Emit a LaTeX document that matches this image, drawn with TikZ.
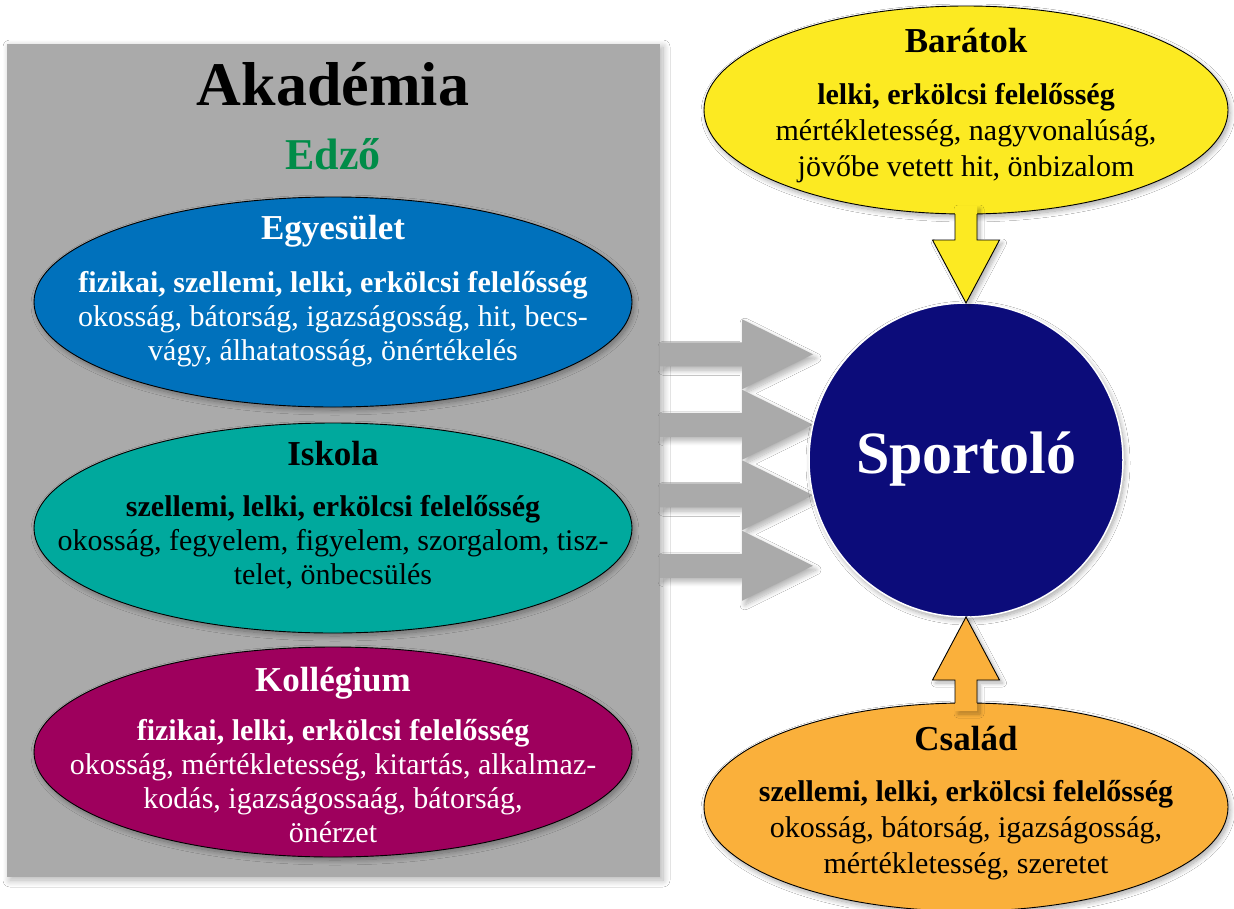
\documentclass[tikz,border=0pt]{standalone}
\usepackage{fontspec}
\setmainfont{Liberation Serif}
\usetikzlibrary{calc,shapes.geometric,shadows.blur}
\definecolor{boxgray}{RGB}{170,170,170}
\definecolor{egyblue}{RGB}{0,113,188}
\definecolor{iskteal}{RGB}{0,169,157}
\definecolor{kolmag}{RGB}{158,0,93}
\definecolor{baryel}{RGB}{252,234,34}
\definecolor{csaor}{RGB}{250,176,59}
\definecolor{spnavy}{RGB}{12,12,122}
\definecolor{edzgreen}{RGB}{0,140,72}
\begin{document}
\begin{tikzpicture}[x=1pt,y=1pt,
  txt/.style={anchor=base, inner sep=0pt, outer sep=0pt},
  ttl/.style={txt, font=\fontsize{35}{35}\selectfont\bfseries},
  bld/.style={txt, font=\fontsize{30}{30}\selectfont\bfseries},
  reg/.style={txt, font=\fontsize{30}{30}\selectfont},
  softshadow/.style={blur shadow={shadow xshift=2pt, shadow yshift=-3pt, shadow blur radius=5pt, shadow blur steps=10, shadow opacity=35}},
  ell/.style={ellipse, draw=black, line width=0.9pt, inner sep=0pt, outer sep=0pt, softshadow},
  leftell/.style={ell, minimum width=598pt, minimum height=210pt},
  rightell/.style={ell, minimum width=524pt, minimum height=208pt},
  blockarrow/.style={draw=black, line width=0.9pt, line join=miter},
]
\useasboundingbox (0,0) rectangle (1234,-908);
\fill[white] (0,0) rectangle (1234,-908);

% Academy box
\node[rectangle, fill=boxgray, minimum width=653pt, minimum height=833pt, inner sep=0pt, outer sep=0pt,
  blur shadow={shadow xshift=3pt, shadow yshift=-3pt, shadow blur radius=7pt, shadow blur steps=10, shadow opacity=30}] (box) at (333.5,-460.5) {};

% Sportolo circle position (used by arrows)
\coordinate (spc) at (966,-460);

% gray arrows
\fill[boxgray, blur shadow={shadow xshift=3pt, shadow yshift=-4pt, shadow blur radius=5pt, shadow blur steps=10, shadow opacity=30}]
  \foreach \o in {105.75,35.25,-35.25,-105.75}{
    ($(box.east |- spc)+(0,\o+12)$) -- ($(box.east |- spc)+(82,\o+12)$) -- ($(box.east |- spc)+(82,\o+35)$)
    -- ($(box.east |- spc)+(153,\o)$) -- ($(box.east |- spc)+(82,\o-35)$) -- ($(box.east |- spc)+(82,\o-12)$)
    -- ($(box.east |- spc)+(0,\o-12)$) -- cycle
  };

\node[font=\fontsize{62}{62}\selectfont\bfseries, txt] (akad) at (333,-105) {Akadémia};
\node[font=\fontsize{44}{44}\selectfont\bfseries, txt, text=edzgreen] (edzo) at (333,-169) {Edző};

% Egyesulet
\node[leftell, fill=egyblue] (egy) at (333,-302) {};
\node[ttl, text=white] (egyT) at ($(egy.center)+(0,63)$) {Egyesület};
\node[bld, text=white] (egy1) at ($(egy.center)+(0,10)$) {fizikai, szellemi, lelki, erkölcsi felelősség};
\node[reg, text=white] (egy2) at ($(egy.center)+(0,-24)$) {okosság, bátorság, igazságosság, hit, becs-};
\node[reg, text=white] (egy3) at ($(egy.center)+(0,-58)$) {vágy, álhatatosság, önértékelés};

% Iskola
\node[leftell, fill=iskteal] (isk) at (333,-528) {};
\node[ttl, text=black] (iskT) at ($(isk.center)+(0,63)$) {Iskola};
\node[bld, text=black] (isk1) at ($(isk.center)+(0,12)$) {szellemi, lelki, erkölcsi felelősség};
\node[reg, text=black] (isk2) at ($(isk.center)+(0,-22)$) {okosság, fegyelem, figyelem, szorgalom, tisz-};
\node[reg, text=black] (isk3) at ($(isk.center)+(0,-56)$) {telet, önbecsülés};

% Kollegium
\node[leftell, fill=kolmag] (kol) at (333,-752) {};
\node[ttl, text=white] (kolT) at ($(kol.center)+(0,61)$) {Kollégium};
\node[bld, text=white] (kol1) at ($(kol.center)+(0,12)$) {fizikai, lelki, erkölcsi felelősség};
\node[reg, text=white] (kol2) at ($(kol.center)+(0,-22)$) {okosság, mértékletesség, kitartás, alkalmaz-};
\node[reg, text=white] (kol3) at ($(kol.center)+(0,-56)$) {kodás, igazságossaág, bátorság,};
\node[reg, text=white] (kol4) at ($(kol.center)+(0,-90)$) {önérzet};

% Baratok
\node[rightell, fill=baryel] (bar) at (966,-110) {};
\node[ttl] (barT) at ($(bar.center)+(0,58)$) {Barátok};
\node[bld] (bar1) at ($(bar.center)+(0,6)$) {lelki, erkölcsi felelősség};
\node[reg] (bar2) at ($(bar.center)+(0,-30)$) {mértékletesség, nagyvonalúság,};
\node[reg] (bar3) at ($(bar.center)+(0,-66)$) {jövőbe vetett hit, önbizalom};

% Csalad
\node[rightell, fill=csaor] (csa) at (966,-807) {};
\node[ttl] (csaT) at ($(csa.center)+(0,57)$) {Család};
\node[bld] (csa1) at ($(csa.center)+(0,6)$) {szellemi, lelki, erkölcsi felelősség};
\node[reg] (csa2) at ($(csa.center)+(0,-30)$) {okosság, bátorság, igazságosság,};
\node[reg] (csa3) at ($(csa.center)+(0,-66)$) {mértékletesség, szeretet};

% Sportolo
\node[circle, fill=spnavy, draw=white, line width=1.5pt, minimum size=314pt, inner sep=0pt, outer sep=0pt,
  softshadow] (sp) at (spc) {};
\node[txt, text=white, font=\fontsize{60}{60}\selectfont\bfseries] (spT) at ($(sp.center)+(0,-13)$) {Sportoló};

% yellow arrow Baratok -> Sportolo
\fill[baryel, blur shadow={shadow xshift=3pt, shadow yshift=-3pt, shadow blur radius=4pt, shadow blur steps=8, shadow opacity=30}]
  ($(bar.south)+(-11,8)$) -- ($(bar.south)+(-11,-26)$) -- ($(bar.south)+(-33.5,-26)$) -- (sp.north)
  -- ($(bar.south)+(33.5,-26)$) -- ($(bar.south)+(11,-26)$) -- ($(bar.south)+(11,8)$) -- cycle;
\draw[blockarrow]
  ($(bar.south)+(-11,0)$) -- ($(bar.south)+(-11,-26)$) -- ($(bar.south)+(-33.5,-26)$) -- (sp.north)
  -- ($(bar.south)+(33.5,-26)$) -- ($(bar.south)+(11,-26)$) -- ($(bar.south)+(11,0)$);

% orange arrow Csalad -> Sportolo
\fill[csaor, blur shadow={shadow xshift=3pt, shadow yshift=-3pt, shadow blur radius=4pt, shadow blur steps=8, shadow opacity=30}]
  ($(csa.north)+(-11,-8)$) -- ($(csa.north)+(-11,23)$) -- ($(csa.north)+(-33.5,23)$) -- (sp.south)
  -- ($(csa.north)+(33.5,23)$) -- ($(csa.north)+(11,23)$) -- ($(csa.north)+(11,-8)$) -- cycle;
\draw[blockarrow]
  ($(csa.north)+(-11,0)$) -- ($(csa.north)+(-11,23)$) -- ($(csa.north)+(-33.5,23)$) -- (sp.south)
  -- ($(csa.north)+(33.5,23)$) -- ($(csa.north)+(11,23)$) -- ($(csa.north)+(11,0)$);
\end{tikzpicture}
\end{document}
